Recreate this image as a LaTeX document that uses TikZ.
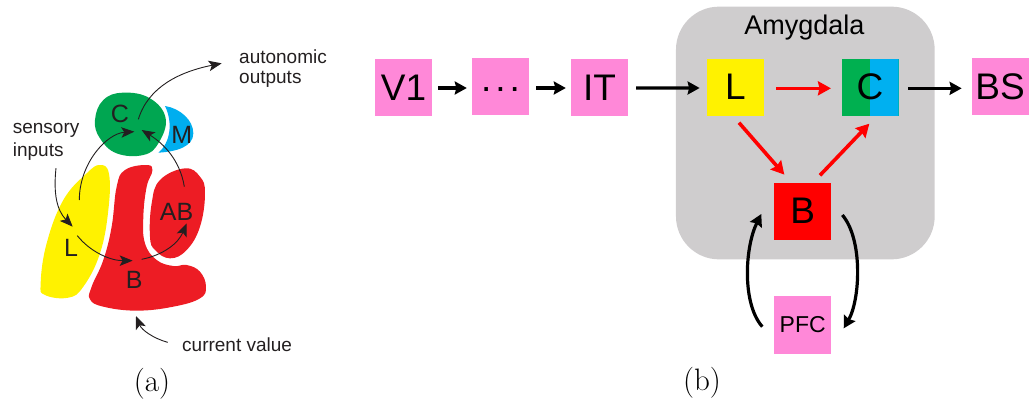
\documentclass[tikz,border=0pt]{standalone}
\usepackage{fontspec}
\setmainfont{Liberation Sans}
\newfontfamily\capfont{Latin Modern Roman}
\usetikzlibrary{arrows.meta,calc}
\definecolor{pinkbox}{HTML}{FF88D8}
\definecolor{amygray}{HTML}{CFCDCE}
\definecolor{boxgreen}{HTML}{00B050}
\definecolor{boxblue}{HTML}{00B0F0}
\definecolor{mapyellow}{HTML}{FFF200}
\definecolor{mapred}{HTML}{ED1C24}
\definecolor{mapgreen}{HTML}{00A651}
\definecolor{mapblue}{HTML}{00AEEF}
\definecolor{inkdark}{HTML}{231F20}
\newcommand{\fsz}[1]{\fontsize{#1}{#1}\selectfont}
\tikzset{
  region/.style={smooth cycle,tension=0.7},
  maplabel/.style={font=\fsz{25},text=inkdark,inner sep=0pt},
  mapnote/.style={font=\fsz{19},text=inkdark,inner sep=0pt,anchor=west},
  thinarrow/.style={draw=inkdark,line width=0.9pt,-{Stealth[length=13pt,width=10.5pt,inset=3pt]}},
  caption/.style={font=\capfont\fsz{31},inner sep=0pt},
  blockbase/.style={minimum size=57pt,inner sep=0pt,font=\fsz{37}},
  pinkblock/.style={blockbase,fill=pinkbox},
  flow/.style={line width=3.2pt,-{Stealth[length=12pt,width=13pt,inset=1.5pt]}},
  redflow/.style={line width=3.6pt,draw=red,-{Stealth[length=13pt,width=14pt,inset=1.5pt]}}
}
\begin{document}
\begin{tikzpicture}[x=1pt,y=-1pt]
\useasboundingbox (0,0) rectangle (1029,402);

% Panel (a): anatomical sketch
\begin{scope}[yshift=-30pt,x=0.33333pt,y=-0.33333pt]
  \fill[mapyellow] plot[region] coordinates {(300,405) (327,432) (325,540) (300,670) (250,770) (205,803) (135,795) (122,760) (140,640) (190,510) (260,430)};
  \fill[mapred] plot[region] coordinates {(440,405) (457,422) (440,470) (430,560) (435,640) (470,690) (520,708) (560,705) (600,725) (618,770) (600,805) (520,830) (410,842) (310,830) (270,808) (275,770) (310,690) (335,590) (350,470) (375,420)};
  \fill[mapred] plot[region] coordinates {(555,415) (600,440) (615,490) (600,590) (560,660) (510,685) (465,660) (450,620) (455,520) (480,450)};
  \fill[mapgreen] plot[region] coordinates {(285,270) (310,210) (370,188) (450,205) (497,265) (475,340) (430,375) (350,370) (300,325)};
  \fill[mapblue] (495,228) .. controls (540,235) and (580,270) .. (580,310) .. controls (580,350) and (530,365) .. (475,368) .. controls (510,340) and (520,280) .. (495,228) -- cycle;

  \node[maplabel] (mC) at (360,252) {C};
  \node[maplabel] (mM) at (545,315) {M};
  \node[maplabel] (mL) at (213,655) {L};
  \node[maplabel] (mB) at (403,750) {B};
  \node[maplabel] (mAB) at (530,545) {AB};
  \node[mapnote] (auto1) at (717,80) {autonomic};
  \node[mapnote] (auto2) at (717,148) {outputs};
  \node[mapnote] (sens1) at (38,300) {sensory};
  \node[mapnote] (sens2) at (38,365) {inputs};
  \node[mapnote] (curr) at (546,945) {current value};
  \node[caption] (capa) at (456,1060) {(a)};

  \coordinate (cOut) at (415,268);
  \coordinate (cInL) at (403,305);
  \coordinate (cInR) at (425,300);
  \coordinate (lIn) at (218,590);
  \coordinate (lOutUp) at (238,510);
  \coordinate (lOutDn) at (232,617);
  \coordinate (bIn) at (398,692);
  \coordinate (bOut) at (425,688);
  \coordinate (abIn) at (560,580);
  \coordinate (abOut) at (553,470);
  \coordinate (redBase) at (408,858);

  \draw[thinarrow] (cOut) .. controls (445,170) and (540,125) .. (665,100);
  \draw[thinarrow] (lOutUp) .. controls (238,400) and (320,310) .. (cInL);
  \draw[thinarrow] (abOut) .. controls (540,390) and (490,340) .. (cInR);
  \draw[thinarrow] ($(sens2.south west)+(130,22)$) .. controls (160,490) and (170,540) .. (lIn);
  \draw[thinarrow] (lOutDn) .. controls (270,665) and (330,692) .. (bIn);
  \draw[thinarrow] (bOut) .. controls (490,675) and (535,640) .. (abIn);
  \draw[thinarrow] ($(curr.west)+(-43,-8)$) .. controls (460,925) and (425,900) .. (redBase);
\end{scope}

% Panel (b): block diagram
\node[pinkblock] (v1) at (403.5,87.5) {V1};
\node[pinkblock] (dots) at (500.5,86.5) {\raisebox{-4.5pt}[0pt][0pt]{.\kern4pt.\kern4pt.}};
\node[pinkblock] (it) at (599.5,87.5) {IT};

\begin{scope}[xshift=660pt,x=0.33333pt,y=-0.33333pt]
  \node[fill=amygray,rounded corners=43pt,minimum width=258.7pt,minimum height=252.7pt,inner sep=0pt] (amy) at (436,399) {};
  \node[font=\fsz{27},inner sep=0pt] (amyname) at (433,83) {Amygdala};
  \node[blockbase,fill=yellow] (L) at (226,261) {L};
  \node[blockbase,fill=boxgreen,
    path picture={\fill[boxblue] (path picture bounding box.north) rectangle (path picture bounding box.south east);}] (C) at (630,261) {C};
  \node[blockbase,fill=red] (B) at (428,633) {B};
  \node[pinkblock,font=\fsz{23}] (pfc) at (428,975) {PFC};
  \node[pinkblock] (bs) at (1020,260) {BS};

  \draw[redflow] ($(L.east)+(37,4)$) -- ($(C.west)+(-31,4)$);
  \draw[redflow] ($(L.south)+(11,21)$) -- ($(B.north)+(-55,-23)$);
  \draw[redflow] ($(B.north)+(52,-21)$) -- ($(C.south)+(-2,24)$);
  \draw[flow] ($(C.east)+(29,4)$) -- ($(bs.west)+(-29,5)$);
  \draw[flow] ($(pfc.west)+(-35,5)$) .. controls (245,910) and (255,740) .. ($(B.west)+(-38,9)$);
  \draw[flow] ($(B.east)+(33,12)$) .. controls (610,720) and (600,900) .. ($(pfc.east)+(37,10)$);
\end{scope}

\draw[flow] ($(v1.east)+(6,0.5)$) -- ($(dots.west)+(-5,1.5)$);
\draw[flow] ($(dots.east)+(7,1.5)$) -- ($(it.west)+(-5,0.5)$);
\draw[flow] ($(it.east)+(8,0.5)$) -- ($(L.west)+(-7,1)$);

\node[caption] (capb) at (702,383) {(b)};
\end{tikzpicture}
\end{document}
